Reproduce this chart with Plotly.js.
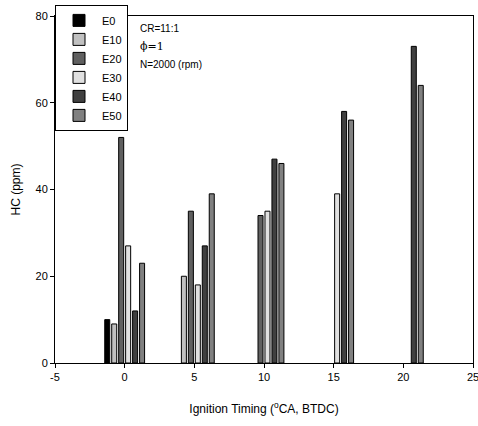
<!DOCTYPE html>
<html><head><meta charset="utf-8">
<script src="https://cdn.plot.ly/plotly-3.0.1.min.js"></script>
<style>body{margin:0;padding:0;background:#fff}#chart{width:478px;height:426px}</style>
</head><body><div id="chart"></div>
<script>
const timing = [0, 5, 10, 15, 20];
const seriesNames = ["E0", "E10", "E20", "E30", "E40", "E50"];
const E0  = [10, null, null, null, null];
const E10 = [9, 20, null, null, null];
const E20 = [52, 35, 34, null, null];
const E30 = [27, 18, 35, 39, null];
const E40 = [12, 27, 47, 58, 73];
const E50 = [23, 39, 46, 56, 64];
const seriesValues = [E0, E10, E20, E30, E40, E50];
const xTickVals = [-5, 0, 5, 10, 15, 20, 25];
const xTickText = ["-5", "0", "5", "10", "15", "20", "25"];
const yTickVals = [0, 20, 40, 60, 80];
const colors = ["#000000", "#c0c0c0", "#606060", "#e0e0e0", "#404040", "#808080"];

const traces = seriesNames.map((n, i) => ({
  type: "bar", name: n, x: timing, y: seriesValues[i],
  marker: {color: colors[i], line: {color: "#000", width: 1}}
}));

const font = {family: "Liberation Sans, Arial, sans-serif", size: 11, color: "#000"};
const layout = {
  width: 478, height: 426,
  margin: {l: 55, r: 5, t: 16, b: 63},
  paper_bgcolor: "#fff", plot_bgcolor: "#fff",
  font: font,
  barmode: "group", bargap: 0.4, bargroupgap: 0.28,
  showlegend: true,
  legend: {x: 0, y: 1.032, xanchor: "left", yanchor: "top",
    bgcolor: "#fff", bordercolor: "#000", borderwidth: 1, itemwidth: 36,
    font: {family: font.family, size: 11, color: "#000"}, tracegroupgap: 0},
  xaxis: {range: [-5, 25], tickvals: xTickVals, ticktext: xTickText, automargin: false,
    ticklabeloverflow: "allow",
    ticks: "outside", ticklen: 4, tickcolor: "#000", showgrid: false, zeroline: false,
    showline: true, linecolor: "#000", linewidth: 1, mirror: true,
    tickfont: {size: 11},
    title: {text: "Ignition Timing (<sup>o</sup>CA, BTDC)", font: {size: 12}, standoff: 22}},
  yaxis: {range: [0, 80], tickvals: yTickVals,
    ticks: "outside", ticklen: 4, tickcolor: "#000", showgrid: false, zeroline: false,
    showline: true, linecolor: "#000", linewidth: 1, mirror: true,
    tickfont: {size: 11},
    title: {text: "HC (ppm)", font: {size: 12}, standoff: 12}},
  annotations: [
    {text: "CR=11:1", x: 0.198, y: 0.965, xref: "paper", yref: "paper", xanchor: "left", yanchor: "middle", showarrow: false, font: {size: 10, color: "#000"}},
    {text: "\u03d5=1", x: 0.198, y: 0.913, xref: "paper", yref: "paper", xanchor: "left", yanchor: "middle", showarrow: false, font: {size: 11, color: "#000", family: "DejaVu Serif, Liberation Serif, serif"}},
    {text: "N=2000 (rpm)", x: 0.198, y: 0.861, xref: "paper", yref: "paper", xanchor: "left", yanchor: "middle", showarrow: false, font: {size: 10, color: "#000"}}
  ]
};
Plotly.newPlot("chart", traces, layout, {staticPlot: true, displayModeBar: false});
</script></body></html>
